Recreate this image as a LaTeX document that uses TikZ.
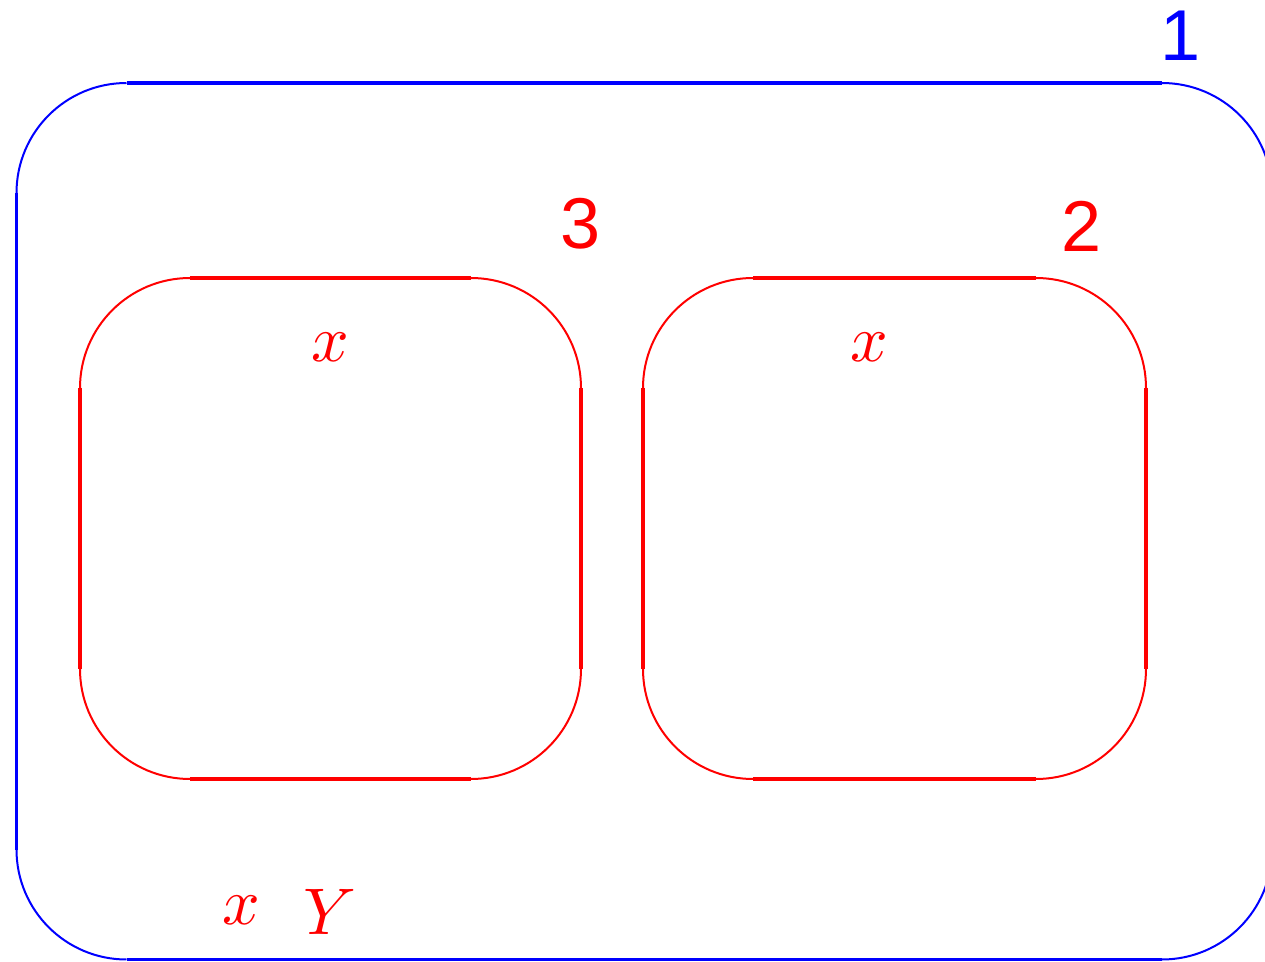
\documentclass[tikz,border=0pt]{standalone}
\usepackage{fontspec}
\newfontfamily\lsans{Liberation Sans}
\begin{document}
\begin{tikzpicture}[x=0.5pt,y=-0.5pt,
  edgeline/.style={line width=1.9pt},
  arcline/.style={line width=1pt},
  numlabel/.style={inner sep=0pt,scale=3.6,font=\lsans},
  mathlabel/.style={inner sep=0pt,scale=3.3,text=red}]
\useasboundingbox (0,0) rectangle (1265,962);
% outer blue box: L=16.5 R=1272 T=83 B=959.5 r=110
\begin{scope}[blue]
\draw[edgeline] (16.5,193) -- (16.5,849.5);
\draw[edgeline] (126.5,83) -- (1162,83);
\draw[edgeline] (126.5,959.5) -- (1162,959.5);
\draw[arcline] (16.5,193) arc[start angle=180,end angle=270,radius=110];
\draw[arcline] (1162,83) arc[start angle=270,end angle=360,radius=110];
\draw[arcline] (1272,849.5) arc[start angle=0,end angle=90,radius=110];
\draw[arcline] (126.5,959.5) arc[start angle=90,end angle=180,radius=110];
\end{scope}
% red boxes
\foreach \L/\R in {80/581, 643/1146}{
\begin{scope}[red]
\draw[edgeline] (\L,388) -- (\L,669);
\draw[edgeline] (\R,388) -- (\R,669);
\draw[edgeline] (\L+110,278) -- (\R-110,278);
\draw[edgeline] (\L+110,779) -- (\R-110,779);
\draw[arcline] (\L,388) arc[start angle=180,end angle=270,radius=110];
\draw[arcline] (\R-110,278) arc[start angle=270,end angle=360,radius=110];
\draw[arcline] (\R,669) arc[start angle=0,end angle=90,radius=110];
\draw[arcline] (\L+110,779) arc[start angle=90,end angle=180,radius=110];
\end{scope}}
\node[numlabel,text=blue] (n1) at (1181,36) {1};
\node[numlabel,text=red] (n3) at (581,224) {3};
\node[numlabel,text=red] (n2) at (1082,226) {2};
\node[mathlabel] (x3) at (330,347) {$x$};
\node[mathlabel] (x2) at (869,347) {$x$};
\node[mathlabel] (x1) at (241,910) {$x$};
\node[mathlabel] (y1) at (330,912) {$Y$};
\end{tikzpicture}
\end{document}
